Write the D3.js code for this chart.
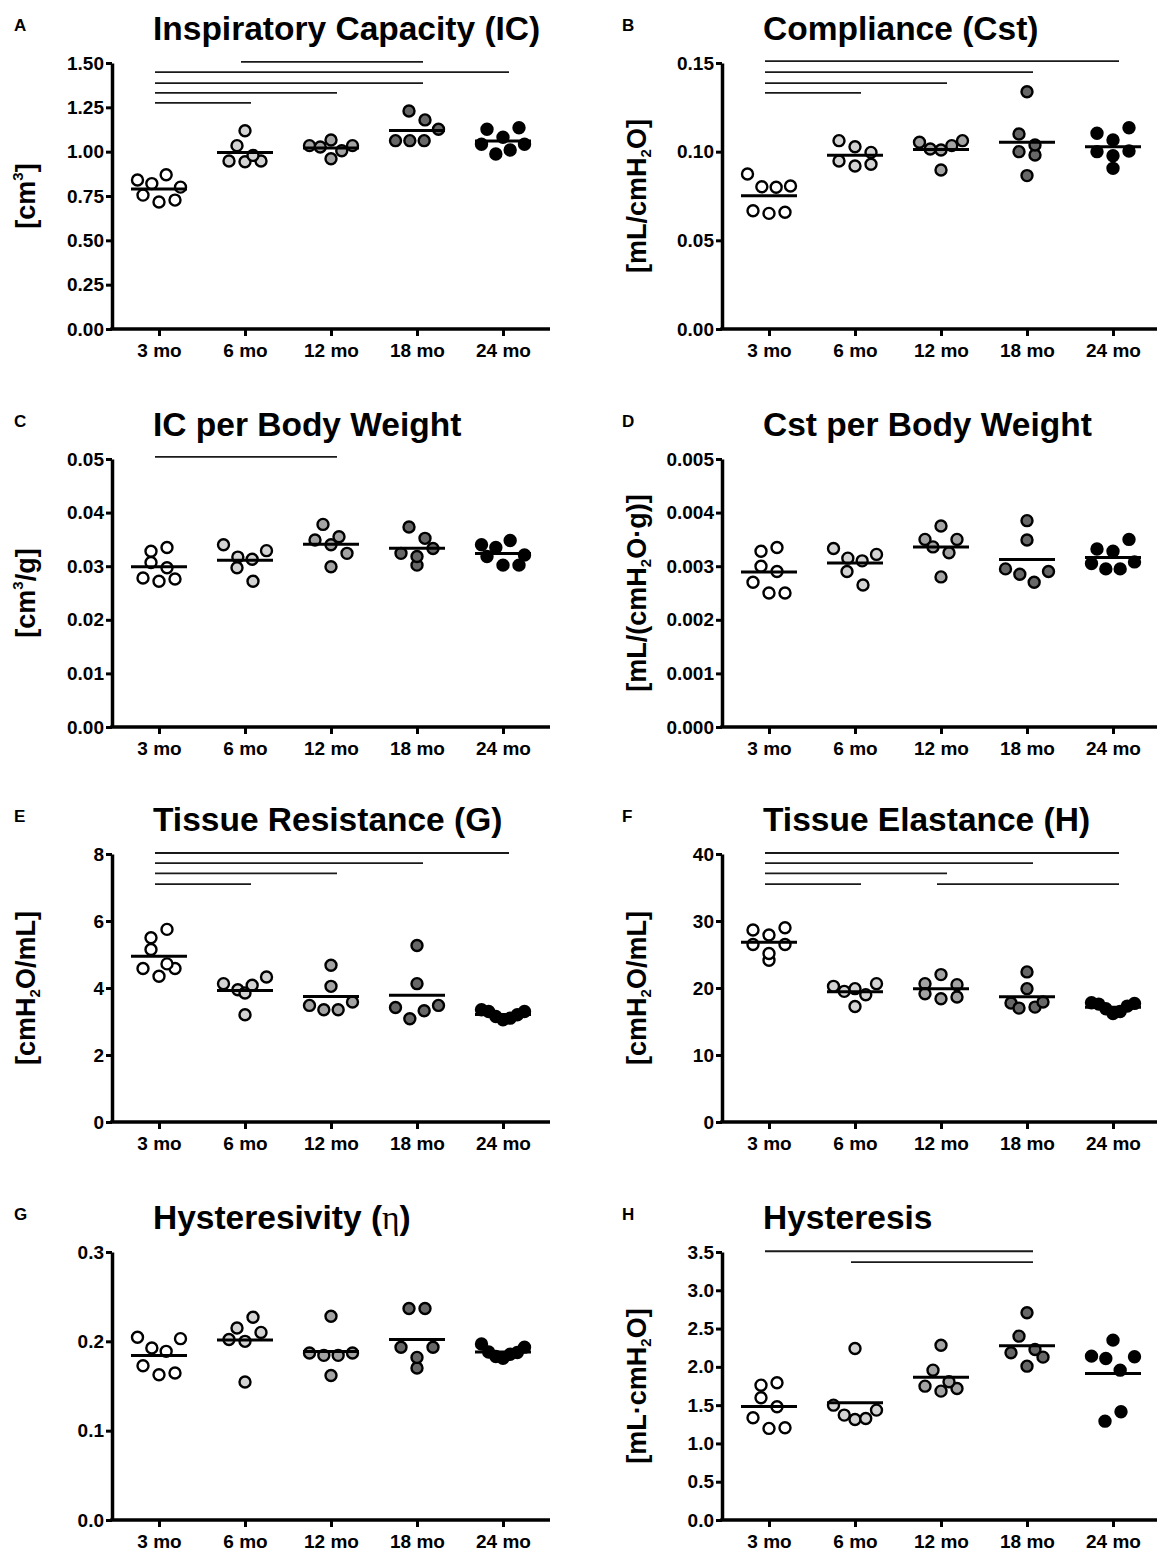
<!DOCTYPE html>
<html>
<head>
<meta charset="utf-8">
<script src="https://cdn.jsdelivr.net/npm/d3@7"></script>
<style>
  body { margin: 0; background: #fff; }
  text { font-family: "Liberation Sans", Arial, sans-serif; font-weight: bold; fill: #000; }
</style>
</head>
<body>
<svg id="chart" width="1157" height="1555"></svg>
<script>
// age groups and dot fills
const groups = ["3 mo", "6 mo", "12 mo", "18 mo", "24 mo"];
const groupFills = ["#ffffff", "#d3d3d3", "#a3a3a3", "#676767", "#000000"];

// values per group, listed left to right as the dots sit in the scatter
// A: inspiratory capacity (cm3)
const icValues = [
  [0.755, 0.84, 0.716, 0.82, 0.727, 0.87, 0.80],
  [1.034, 0.947, 0.943, 1.118, 0.947, 0.979],
  [1.034, 1.026, 1.066, 0.960, 1.005, 1.034],
  [1.062, 1.229, 1.062, 1.062, 1.179, 1.126],
  [1.042, 1.126, 0.987, 1.081, 1.009, 1.135, 1.042]
];
// B: static compliance
const cstValues = [
  [0.0874, 0.0667, 0.0802, 0.0652, 0.0799, 0.0658, 0.0806],
  [0.0947, 0.1062, 0.0919, 0.0929, 0.1028, 0.0996],
  [0.1053, 0.1015, 0.1009, 0.0897, 0.1034, 0.1062],
  [0.1000, 0.1338, 0.1100, 0.0981, 0.0865, 0.1038],
  [0.1000, 0.1104, 0.0906, 0.1066, 0.0977, 0.1135, 0.1004]
];
// C: IC per body weight
const icBwValues = [
  [0.0328, 0.0278, 0.0307, 0.0272, 0.0276, 0.0335, 0.0297],
  [0.0340, 0.0317, 0.0313, 0.0297, 0.0272, 0.0329],
  [0.0349, 0.0299, 0.0378, 0.0340, 0.0324, 0.0355],
  [0.0324, 0.0373, 0.0302, 0.0318, 0.0352, 0.0333],
  [0.0318, 0.0340, 0.0302, 0.0335, 0.0302, 0.0348, 0.0321]
];
// D: Cst per body weight
const cstBwValues = [
  [0.00270, 0.00328, 0.00300, 0.00250, 0.00290, 0.00335, 0.00250],
  [0.00333, 0.00315, 0.00290, 0.00265, 0.00310, 0.00322],
  [0.00350, 0.00336, 0.00375, 0.00280, 0.00325, 0.00350],
  [0.00295, 0.00285, 0.00385, 0.00349, 0.00270, 0.00290],
  [0.00305, 0.00332, 0.00295, 0.00328, 0.00295, 0.00350, 0.00308]
];
// E: tissue resistance G
const gValues = [
  [4.58, 5.50, 4.35, 5.75, 4.58, 5.15, 4.72],
  [4.13, 3.95, 3.85, 3.20, 4.08, 4.33],
  [3.48, 3.35, 4.68, 4.05, 3.35, 3.58],
  [3.42, 3.08, 5.27, 4.13, 3.32, 3.48],
  [3.35, 3.30, 3.15, 3.05, 3.10, 3.20, 3.30]
];
// F: tissue elastance H
const hValues = [
  [26.5, 28.65, 24.15, 27.9, 25.15, 29.0, 26.5],
  [20.25, 19.5, 19.9, 17.25, 19.0, 20.65],
  [20.65, 19.15, 22.0, 18.4, 18.65, 20.5],
  [17.75, 22.4, 17.0, 19.9, 17.15, 17.9],
  [17.8, 17.6, 16.9, 16.2, 16.5, 17.3, 17.7]
];
// G: hysteresivity eta
const etaValues = [
  [0.2045, 0.1727, 0.1926, 0.1626, 0.1888, 0.1645, 0.203],
  [0.215, 0.202, 0.227, 0.1544, 0.200, 0.210],
  [0.187, 0.1843, 0.228, 0.1618, 0.1843, 0.187],
  [0.2367, 0.1933, 0.1701, 0.182, 0.2367, 0.1933],
  [0.197, 0.188, 0.183, 0.181, 0.1855, 0.1875, 0.1935]
];
// H: hysteresis
const hystValues = [
  [1.761, 1.336, 1.597, 1.196, 1.792, 1.479, 1.205],
  [1.50, 1.37, 2.24, 1.313, 1.326, 1.435],
  [1.748, 1.683, 2.283, 1.957, 1.718, 1.805],
  [2.184, 2.009, 2.706, 2.401, 2.127, 2.227],
  [2.14, 1.291, 2.11, 2.349, 1.957, 1.414, 2.132]
];

// significance bars: [from group, to group, level]
const icSig = [[1, 3, 1.506], [0, 4, 1.449], [0, 3, 1.387], [0, 2, 1.331], [0, 1, 1.275]];
const cstSig = [[0, 4, 0.1511], [0, 3, 0.1449], [0, 2, 0.1387], [0, 1, 0.1331]];
const icBwSig = [[0, 2, 0.0504]];
const gSig = [[0, 4, 8.03], [0, 3, 7.73], [0, 2, 7.42], [0, 1, 7.10]];
const hSig = [[0, 4, 40.15], [0, 3, 38.65], [0, 2, 37.1], [0, 1, 35.5], [2, 4, 35.5]];
const hystSig = [[0, 3, 3.51], [1, 3, 3.367]];

const panels = [
  { letter: "A", col: 0, row: 0, title: "Inspiratory Capacity (IC)", label: [["[cm"], ["3", "sup"], ["]"]],
    values: icValues, max: 1.5, ticks: d3.range(0, 1.501, 0.25), fmt: ".2f", sig: icSig },
  { letter: "B", col: 1, row: 0, title: "Compliance (Cst)", label: [["[mL/cmH"], ["2", "sub"], ["O]"]],
    values: cstValues, max: 0.15, ticks: [0, 0.05, 0.10, 0.15], fmt: ".2f", sig: cstSig },
  { letter: "C", col: 0, row: 1, title: "IC per Body Weight", label: [["[cm"], ["3", "sup"], ["/g]"]],
    values: icBwValues, max: 0.05, ticks: d3.range(0, 0.0501, 0.01), fmt: ".2f", sig: icBwSig },
  { letter: "D", col: 1, row: 1, title: "Cst per Body Weight", label: [["[mL/(cmH"], ["2", "sub"], ["O\u00b7g)]"]],
    values: cstBwValues, max: 0.005, ticks: d3.range(0, 0.00501, 0.001), fmt: ".3f", sig: [] },
  { letter: "E", col: 0, row: 2, title: "Tissue Resistance (G)", label: [["[cmH"], ["2", "sub"], ["O/mL]"]],
    values: gValues, max: 8, ticks: [0, 2, 4, 6, 8], fmt: "d", sig: gSig },
  { letter: "F", col: 1, row: 2, title: "Tissue Elastance (H)", label: [["[cmH"], ["2", "sub"], ["O/mL]"]],
    values: hValues, max: 40, ticks: [0, 10, 20, 30, 40], fmt: "d", sig: hSig },
  { letter: "G", col: 0, row: 3, title: "Hysteresivity (", eta: true, label: null,
    values: etaValues, max: 0.3, ticks: [0, 0.1, 0.2, 0.3], fmt: ".1f", sig: [] },
  { letter: "H", col: 1, row: 3, title: "Hysteresis", label: [["[mL\u00b7cmH"], ["2", "sub"], ["O]"]],
    values: hystValues, max: 3.5, ticks: d3.range(0, 3.501, 0.5), fmt: ".1f", sig: hystSig }
];

const svg = d3.select("#chart");
const rowTops = [63, 459, 854, 1252];
const rowBottoms = [329, 727, 1122, 1520];
const colAxisX = [112, 722];
const colEnd = [550, 1157];
const dotR = 5.5;
const meanHalf = 28;

// Prism-like scatter: points binned into rows, each row centred,
// spacing shrinks so a row never gets wider than the mean bar
function scatterRows(vals, y) {
  const pts = vals.map((v, i) => ({ v, i, py: y(v), dx: 0 }));
  const byHeight = pts.slice().sort((a, b) => a.py - b.py);
  const rows = [];
  let cur = null;
  byHeight.forEach(p => {
    if (!cur || p.py - cur.start > 14.5) { cur = { start: p.py, items: [] }; rows.push(cur); }
    cur.items.push(p);
  });
  const maxSpan = 2 * meanHalf - 13;
  rows.forEach(r => {
    const items = r.items.sort((a, b) => a.i - b.i);
    const n = items.length;
    const step = n > 1 ? Math.min(16, maxSpan / (n - 1)) : 0;
    items.forEach((p, k) => { p.dx = (k - (n - 1) / 2) * step; });
  });
  return pts;
}

panels.forEach(p => {
  const ax = colAxisX[p.col];
  const top = rowTops[p.row], bottom = rowBottoms[p.row];
  const g = svg.append("g");

  const x = d3.scalePoint().domain(groups).range([ax + 47, ax + 391]);
  const y = d3.scaleLinear().domain([0, p.max]).range([bottom, top]);

  // letter and title
  g.append("text").attr("x", p.col ? 622 : 14).attr("y", top - 32)
    .style("font-size", "17px").text(p.letter);
  const t = g.append("text").attr("x", ax + 41).attr("y", top - 23)
    .style("font-size", "33.5px").text(p.title);
  if (p.eta) {
    t.append("tspan").style("font-family", "'Liberation Serif', serif").style("font-weight", "normal").text("\u03b7");
    t.append("tspan").text(")");
  }

  // y label
  if (p.label) {
    const lx = p.col ? 646 : 35;
    const ly = (top + bottom) / 2;
    const lt = g.append("text").attr("transform", `translate(${lx},${ly}) rotate(-90)`)
      .attr("text-anchor", "middle").style("font-size", "27px");
    p.label.forEach(([s, kind], k) => {
      const ts = lt.append("tspan").text(s);
      if (kind === "sup") ts.style("font-size", "15px").attr("dy", -12);
      else if (kind === "sub") ts.style("font-size", "15px").attr("dy", 5);
      else if (k > 0) ts.attr("dy", p.label[k - 1][1] === "sup" ? 12 : -5);
    });
  }

  // y axis
  const yAxis = g.append("g").attr("transform", `translate(${ax},0)`)
    .call(d3.axisLeft(y).tickValues(p.ticks).tickFormat(d3.format(p.fmt)).tickSize(6).tickSizeOuter(0).tickPadding(2));
  yAxis.select(".domain").attr("stroke-width", 3.5).attr("stroke", "#000");
  yAxis.selectAll(".tick line").attr("stroke-width", 3).attr("stroke", "#000");
  yAxis.selectAll(".tick text").style("font-size", "19px").style("font-family", "'Liberation Sans', Arial, sans-serif");

  // x axis
  const xAxis = g.append("g").attr("transform", `translate(0,${bottom})`)
    .call(d3.axisBottom(x).tickSize(7).tickSizeOuter(0).tickPadding(8));
  xAxis.select(".domain").remove();
  xAxis.selectAll(".tick line").attr("stroke-width", 3).attr("stroke", "#000");
  xAxis.selectAll(".tick text").style("font-size", "19px").style("font-family", "'Liberation Sans', Arial, sans-serif");
  g.append("line").attr("x1", ax - 1.75).attr("x2", colEnd[p.col])
    .attr("y1", bottom).attr("y2", bottom).attr("stroke", "#000").attr("stroke-width", 3.5);

  // significance bars
  g.selectAll("line.sig").data(p.sig).join("line").attr("class", "sig")
    .attr("x1", d => x(groups[d[0]]) - 4).attr("x2", d => x(groups[d[1]]) + 6)
    .attr("y1", d => y(d[2])).attr("y2", d => y(d[2]))
    .attr("stroke", "#1a1a1a").attr("stroke-width", 1.8);

  // dots and mean bars
  p.values.forEach((vals, gi) => {
    const cx = x(groups[gi]);
    const pts = scatterRows(vals, y);
    g.selectAll(null).data(pts).join("circle")
      .attr("cx", d => cx + d.dx).attr("cy", d => d.py).attr("r", dotR)
      .attr("fill", groupFills[gi]).attr("stroke", "#000").attr("stroke-width", 2.4);
    const m = d3.mean(vals);
    g.append("line").attr("x1", cx - meanHalf).attr("x2", cx + meanHalf)
      .attr("y1", y(m)).attr("y2", y(m)).attr("stroke", "#000").attr("stroke-width", 3);
  });
});
</script>
</body>
</html>
